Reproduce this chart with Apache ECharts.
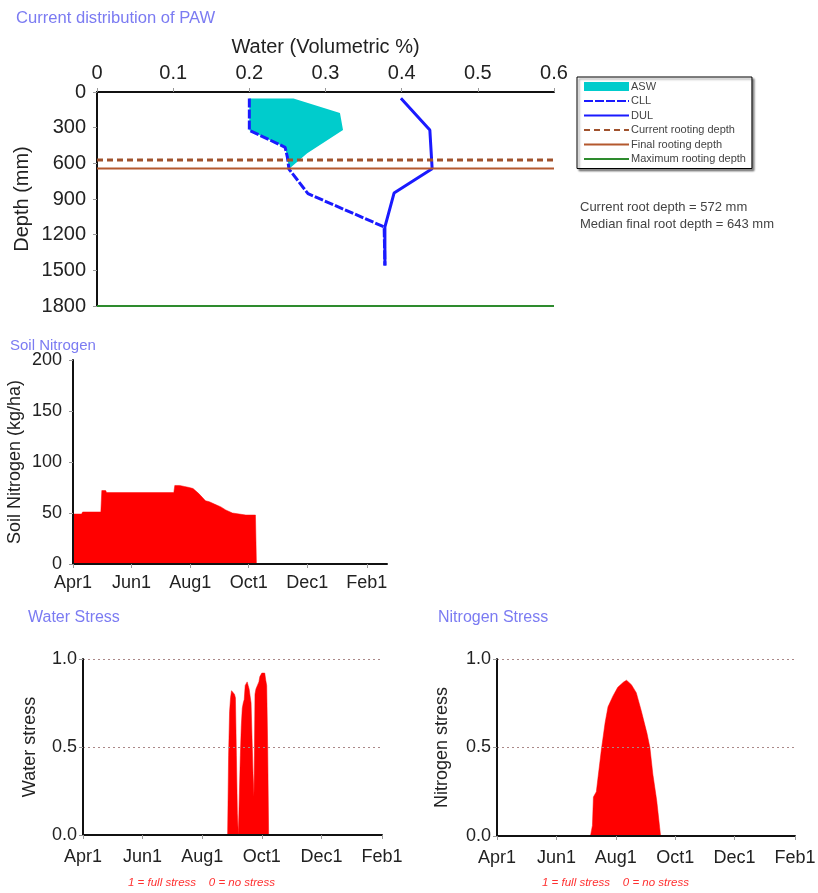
<!DOCTYPE html>
<html>
<head>
<meta charset="utf-8">
<title>PAW / Nitrogen / Stress</title>
<script src="https://cdn.jsdelivr.net/npm/echarts@6/dist/echarts.min.js"></script>
<style>
  html, body { margin: 0; padding: 0; background: #fff; }
  #chart { width: 818px; height: 893px; }
</style>
</head>
<body>
<div id="chart"></div>
<script>
  // soil water profile, [volumetric water, depth mm]
  const cllPoints = [[0.2, 55], [0.2, 322], [0.247, 465], [0.25, 550], [0.252, 648], [0.277, 855], [0.377, 1135], [0.378, 1460]];
  const dulPoints = [[0.399, 52], [0.437, 320], [0.44, 645], [0.39, 850], [0.378, 1135], [0.378, 1460]];
  const swPoints = [[0.258, 55], [0.319, 176], [0.323, 320], [0.276, 515], [0.252, 648]];
  const currentRootDepth = 572;
  const finalRootDepth = 643;
  const maxRootDepth = 1800;

  // season axis: days since Apr1
  const tickDays = [0, 61, 122, 183, 244, 306];
  const tickLabels = ['Apr1', 'Jun1', 'Aug1', 'Oct1', 'Dec1', 'Feb1'];

  // soil nitrogen (kg/ha)
  const soilNDays = [0, 9, 10, 29, 30, 34, 35, 105, 106, 111, 116, 121, 125, 131, 138, 142, 149, 154, 159, 166, 180, 190, 191, 327];
  const soilNValues = [49, 49, 51, 51, 72, 72, 70, 70, 77, 77, 76, 75, 74, 69, 62, 61, 58, 56, 53, 50, 48, 48, 0, 0];

  // water stress (1 = full stress)
  const waterStressDays = [0, 148, 149, 150, 151, 152, 153, 154, 155, 156, 157, 158, 159, 160, 161, 162, 163, 164, 165, 166, 167, 168, 169, 170, 171, 172, 173, 174, 175, 176, 177, 178, 179, 180, 181, 182, 183, 184, 185, 186, 187, 188, 189, 190, 306];
  const waterStressValues = [0, 0, 0.45, 0.7, 0.78, 0.82, 0.83, 0.82, 0.8, 0.78, 0.45, 0.12, 0, 0, 0.45, 0.62, 0.72, 0.75, 0.77, 0.85, 0.86, 0.87, 0.85, 0.83, 0.82, 0.75, 0.55, 0.35, 0.22, 0.8, 0.83, 0.83, 0.84, 0.87, 0.9, 0.91, 0.92, 0.93, 0.93, 0.92, 0.88, 0.85, 0.5, 0, 0];

  // nitrogen stress
  const nStressDays = [0, 96, 97, 98, 99, 102, 107, 111, 114, 119, 124, 130, 133, 138, 143, 148, 154, 157, 160, 164, 167, 168, 306];
  const nStressValues = [0, 0, 0.03, 0.06, 0.22, 0.25, 0.48, 0.64, 0.73, 0.79, 0.84, 0.87, 0.88, 0.855, 0.81, 0.71, 0.58, 0.5, 0.35, 0.2, 0.05, 0, 0];

  const pairs = (xs, ys) => xs.map((x, i) => [x, ys[i]]);
  const dayLabel = v => { const i = tickDays.indexOf(v); return i < 0 ? '' : tickLabels[i]; };

  const FONT = 'Liberation Sans, Arial, sans-serif';
  const TXT = '#222';
  const TITLE = '#7b7bf2';
  const axisLine = { show: true, onZero: false, lineStyle: { color: '#111', width: 2 } };
  const tick = { show: true, length: 4, lineStyle: { color: '#999' } };

  function dayAxis(grid, max, margin) {
    return {
      gridIndex: grid, type: 'value', min: 0, max: max, z: 3,
      axisLine: axisLine,
      axisTick: Object.assign({ customValues: tickDays }, tick),
      axisLabel: { customValues: tickDays, formatter: dayLabel, fontSize: 18, color: TXT, margin: margin },
      splitLine: { show: false }
    };
  }
  function stressAxis(grid, name, gap) {
    return {
      gridIndex: grid, type: 'value', min: 0, max: 1, interval: 0.5, z: 3,
      name: name, nameLocation: 'middle', nameGap: gap, nameMoveOverlap: false,
      nameTextStyle: { fontSize: 18, color: TXT },
      axisLine: axisLine, axisTick: tick,
      axisLabel: { fontSize: 18, color: TXT, margin: 6, formatter: v => v.toFixed(1) },
      splitLine: { show: true, lineStyle: { color: '#a88', width: 1, type: [2, 3] } }
    };
  }
  function redArea(name, x, y, data) {
    return {
      name: name, type: 'line', xAxisIndex: x, yAxisIndex: y, data: data, z: 1,
      symbol: 'none', lineStyle: { color: '#ff0000', width: 0.5 },
      itemStyle: { color: '#ff0000' }, areaStyle: { color: '#ff0000', opacity: 1 }
    };
  }
  function depthLine(name, depth, color, width, type) {
    return {
      name: name, type: 'line', xAxisIndex: 0, yAxisIndex: 0,
      data: [[0, depth], [0.6, depth]], symbol: 'none',
      lineStyle: { color: color, width: width, type: type }, itemStyle: { color: color }
    };
  }
  function plainTitle(text, left, top, size) {
    return { text: text, left: left, top: top, padding: 0, textStyle: { fontSize: size, fontWeight: 'normal', color: TITLE } };
  }
  function stressNote(left) {
    return { text: '1 = full stress    0 = no stress', left: left, top: 877, padding: 0,
      textStyle: { fontSize: 11.5, fontStyle: 'italic', fontWeight: 'normal', color: '#ff3030' } };
  }
  const legendLine = name => ({ name: name, itemStyle: { opacity: 0 }, lineStyle: { width: 2 } });

  const chart = echarts.init(document.getElementById('chart'));
  chart.setOption({
    animation: false,
    textStyle: { fontFamily: FONT },
    title: [
      plainTitle('Current distribution of PAW', 16, 10, 16.6),
      plainTitle('Soil Nitrogen', 10, 338, 15),
      plainTitle('Water Stress', 28, 610, 16),
      plainTitle('Nitrogen Stress', 438, 610, 16),
      { text: 'Current root depth = ' + currentRootDepth + ' mm\nMedian final root depth = ' + finalRootDepth + ' mm',
        left: 580, top: 199, padding: 0, textStyle: { fontSize: 13, fontWeight: 'normal', color: '#444', lineHeight: 17 } },
      stressNote(128),
      stressNote(542)
    ],
    legend: {
      orient: 'vertical', left: 577, top: 77, padding: [4, 6],
      itemWidth: 45, itemHeight: 9, itemGap: 3.5, selectedMode: false,
      backgroundColor: '#fff', borderColor: '#000', borderWidth: 1,
      shadowColor: 'rgba(0,0,0,0.45)', shadowBlur: 2, shadowOffsetX: 2, shadowOffsetY: 2,
      textStyle: { fontSize: 11, color: '#444', padding: [0, 0, 0, -3] },
      data: [
        { name: 'ASW', icon: 'rect' },
        legendLine('CLL'),
        legendLine('DUL'),
        legendLine('Current rooting depth'),
        legendLine('Final rooting depth'),
        legendLine('Maximum rooting depth')
      ]
    },
    grid: [
      { left: 97, top: 92, width: 457, height: 214, outerBoundsMode: 'none' },
      { left: 73, top: 360, width: 314, height: 204, outerBoundsMode: 'none' },
      { left: 83, top: 659, width: 299, height: 176, outerBoundsMode: 'none' },
      { left: 497, top: 659, width: 298, height: 177, outerBoundsMode: 'none' }
    ],
    xAxis: [
      {
        gridIndex: 0, type: 'value', position: 'top', min: 0, max: 0.6, interval: 0.1, z: 3,
        name: 'Water (Volumetric %)', nameLocation: 'middle', nameGap: 35, nameMoveOverlap: false,
        nameTextStyle: { fontSize: 20, color: TXT },
        axisLine: axisLine, axisTick: tick,
        axisLabel: { fontSize: 20, color: TXT, margin: 9 },
        splitLine: { show: false }
      },
      dayAxis(1, 327, 10),
      dayAxis(2, 306, 13),
      dayAxis(3, 306, 13)
    ],
    yAxis: [
      {
        gridIndex: 0, type: 'value', inverse: true, min: 0, max: 1800, interval: 300, z: 3,
        name: 'Depth (mm)', nameLocation: 'middle', nameGap: 65, nameMoveOverlap: false,
        nameTextStyle: { fontSize: 20, color: TXT },
        axisLine: axisLine, axisTick: tick,
        axisLabel: { fontSize: 20, color: TXT, margin: 11, formatter: v => String(v) },
        splitLine: { show: false }
      },
      {
        gridIndex: 1, type: 'value', min: 0, max: 200, interval: 50, z: 3,
        name: 'Soil Nitrogen (kg/ha)', nameLocation: 'middle', nameGap: 49, nameMoveOverlap: false,
        nameTextStyle: { fontSize: 18, color: TXT },
        axisLine: axisLine, axisTick: tick,
        axisLabel: { fontSize: 18, color: TXT, margin: 11 },
        splitLine: { show: false }
      },
      stressAxis(2, 'Water stress', 44),
      stressAxis(3, 'Nitrogen stress', 46)
    ],
    series: [
      {
        name: 'ASW', type: 'custom', xAxisIndex: 0, yAxisIndex: 0,
        data: [swPoints[0]], itemStyle: { color: '#00cccc' },
        renderItem: (params, api) => {
          const outline = swPoints.concat(cllPoints.slice(0, 5).reverse());
          return { type: 'polygon', shape: { points: outline.map(p => api.coord(p)) }, style: { fill: '#00cccc' } };
        }
      },
      {
        name: 'CLL', type: 'line', xAxisIndex: 0, yAxisIndex: 0, data: cllPoints, symbol: 'none',
        lineStyle: { color: '#1a1aff', width: 3, type: [9, 2] }, itemStyle: { color: '#1a1aff' }
      },
      {
        name: 'DUL', type: 'line', xAxisIndex: 0, yAxisIndex: 0, data: dulPoints, symbol: 'none',
        lineStyle: { color: '#1a1aff', width: 3 }, itemStyle: { color: '#1a1aff' }
      },
      depthLine('Current rooting depth', currentRootDepth, '#a0522d', 3, [6, 4]),
      depthLine('Final rooting depth', finalRootDepth, '#b4582e', 2, 'solid'),
      depthLine('Maximum rooting depth', maxRootDepth, '#2e8b2e', 2, 'solid'),
      redArea('Soil nitrogen', 1, 1, pairs(soilNDays, soilNValues)),
      redArea('Water stress', 2, 2, pairs(waterStressDays, waterStressValues)),
      redArea('Nitrogen stress', 3, 3, pairs(nStressDays, nStressValues))
    ]
  });
</script>
</body>
</html>
